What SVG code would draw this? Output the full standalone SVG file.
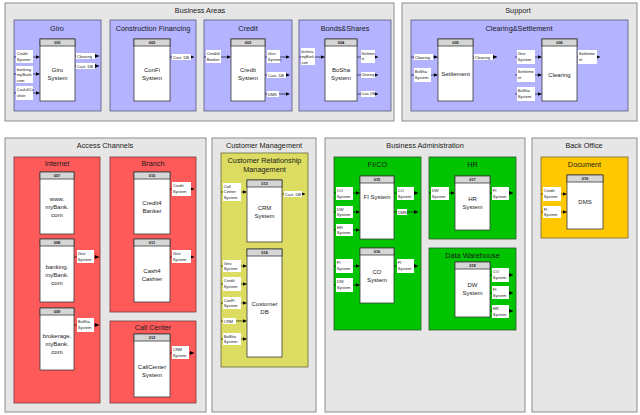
<svg xmlns="http://www.w3.org/2000/svg" width="640" height="415" viewBox="0 0 640 415">
<defs>
<marker id="ah" viewBox="0 0 6 6" refX="6" refY="3" markerWidth="4" markerHeight="4" markerUnits="userSpaceOnUse" orient="auto"><path d="M0,0 L6,3 L0,6 z" fill="#000"/></marker>
<style>
text{font-family:"Liberation Sans",Arial,sans-serif;fill:#1a1a1a}
.o{fill:#e6e6e6;stroke:#8c8c8c;stroke-width:1}
.b{fill:#b3b3ff;stroke:#5a5a7a;stroke-width:0.8}
.r{fill:#ff5a5a;stroke:#7a3a3a;stroke-width:0.8}
.y{fill:#dcdc62;stroke:#6a6a40;stroke-width:0.8}
.g{fill:#00c400;stroke:#2a5a2a;stroke-width:0.8}
.d{fill:#ffc800;stroke:#7a6a30;stroke-width:0.8}
.nb{fill:#fff;stroke:#3a3a3a;stroke-width:0.8}
.nh{fill:#d6d6d6;stroke:#3a3a3a;stroke-width:0.8}
.ot{font-size:7.3px;text-anchor:middle}
.ct{font-size:7.3px;text-anchor:middle}
.ni{font-size:4px;font-weight:bold;text-anchor:middle}
.nt{font-size:6px;text-anchor:middle}
.lb{fill:#fff}
.lt{font-size:4.1px}
.ls{font-size:3.4px}
.lm{font-size:3.5px}
.cn{stroke:#000;stroke-width:0.6;fill:none;marker-end:url(#ah)}
</style>
</defs>

<!-- Outer areas -->
<g id="area-business-areas"><rect class="o" x="5" y="3" width="389" height="118"/><text class="ot" x="200" y="12.5">Business Areas</text></g>
<g id="area-support"><rect class="o" x="402" y="3" width="235" height="118"/><text class="ot" x="518" y="12.5">Support</text></g>
<g id="area-access-channels"><rect class="o" x="5" y="138" width="201" height="274"/><text class="ot" x="105" y="147.5">Access Channels</text></g>
<g id="area-customer-management"><rect class="o" x="212" y="138" width="104" height="274"/><text class="ot" x="264" y="147.5">Customer Management</text></g>
<g id="area-business-administration"><rect class="o" x="325" y="138" width="200" height="274"/><text class="ot" x="425" y="147.5">Business Administration</text></g>
<g id="area-back-office"><rect class="o" x="532" y="138" width="105" height="274"/><text class="ot" x="584" y="147.5">Back Office</text></g>

<!-- Domains -->
<g id="dom-giro"><rect class="b" x="14" y="20" width="87" height="91"/><text class="ct" x="57" y="31">Giro</text></g>
<g id="dom-confi"><rect class="b" x="110" y="20" width="86" height="91"/><text class="ct" x="153" y="31">Construction Financing</text></g>
<g id="dom-credit"><rect class="b" x="204" y="20" width="88" height="91"/><text class="ct" x="248" y="31">Credit</text></g>
<g id="dom-bonds"><rect class="b" x="299" y="20" width="92" height="91"/><text class="ct" x="345" y="31">Bonds&amp;Shares</text></g>
<g id="dom-clearing-settlement"><rect class="b" x="411" y="20" width="217" height="91"/><text class="ct" x="519" y="31">Clearing&amp;Settlement</text></g>
<g id="dom-internet"><rect class="r" x="14" y="157" width="86" height="246"/><text class="ct" x="57" y="166">Internet</text></g>
<g id="dom-branch"><rect class="r" x="110" y="157" width="86" height="155"/><text class="ct" x="153" y="166">Branch</text></g>
<g id="dom-callcenter"><rect class="r" x="110" y="321" width="86" height="82"/><text class="ct" x="153" y="330">Call Center</text></g>
<g id="dom-crm"><rect class="y" x="221" y="153" width="87" height="214"/><text class="ct" x="264.5" y="162.5">Customer Relationship</text><text class="ct" x="264.5" y="171.5">Management</text></g>
<g id="dom-fico"><rect class="g" x="334" y="157" width="87" height="173"/><text class="ct" x="377.5" y="167">FI/CO</text></g>
<g id="dom-hr"><rect class="g" x="429" y="157" width="87" height="82"/><text class="ct" x="472.5" y="167">HR</text></g>
<g id="dom-dw"><rect class="g" x="429" y="248" width="87" height="82"/><text class="ct" x="472.5" y="257.5">Data Warehouse</text></g>
<g id="dom-document"><rect class="d" x="541" y="157" width="87" height="81"/><text class="ct" x="584.5" y="167">Document</text></g>

<!-- Nodes -->
<g id="n001"><rect class="nb" x="40" y="39" width="35" height="62"/><rect class="nh" x="40" y="39" width="35" height="7"/><text class="ni" x="57.5" y="44">001</text><text class="nt" x="57.5" y="72">Giro</text><text class="nt" x="57.5" y="80">System</text></g>
<g id="n002"><rect class="nb" x="134" y="39" width="36" height="62"/><rect class="nh" x="134" y="39" width="36" height="7"/><text class="ni" x="152" y="44">002</text><text class="nt" x="152" y="72">ConFi</text><text class="nt" x="152" y="80">System</text></g>
<g id="n003"><rect class="nb" x="231" y="39" width="34" height="62"/><rect class="nh" x="231" y="39" width="34" height="7"/><text class="ni" x="248" y="44">003</text><text class="nt" x="248" y="72">Credit</text><text class="nt" x="248" y="80">System</text></g>
<g id="n004"><rect class="nb" x="325" y="39" width="32" height="62"/><rect class="nh" x="325" y="39" width="32" height="7"/><text class="ni" x="341" y="44">004</text><text class="nt" x="341" y="72">BoSha</text><text class="nt" x="341" y="80">System</text></g>
<g id="n005"><rect class="nb" x="438" y="39" width="35" height="62"/><rect class="nh" x="438" y="39" width="35" height="7"/><text class="ni" x="455.5" y="44">005</text><text class="nt" x="455.5" y="75.5">Settlement</text></g>
<g id="n006"><rect class="nb" x="542" y="39" width="35" height="62"/><rect class="nh" x="542" y="39" width="35" height="7"/><text class="ni" x="559.5" y="44">006</text><text class="nt" x="559.5" y="76.5">Clearing</text></g>
<g id="n007"><rect class="nb" x="40" y="172" width="34" height="62"/><rect class="nh" x="40" y="172" width="34" height="7"/><text class="ni" x="57" y="177">007</text><text class="nt" x="57" y="201">www.</text><text class="nt" x="57" y="209">myBank.</text><text class="nt" x="57" y="217">com</text></g>
<g id="n008"><rect class="nb" x="40" y="239" width="34" height="63"/><rect class="nh" x="40" y="239" width="34" height="7"/><text class="ni" x="57" y="244">008</text><text class="nt" x="57" y="268.5">banking.</text><text class="nt" x="57" y="276.5">myBank.</text><text class="nt" x="57" y="284.5">com</text></g>
<g id="n009"><rect class="nb" x="40" y="308" width="34" height="62"/><rect class="nh" x="40" y="308" width="34" height="7"/><text class="ni" x="57" y="313">009</text><text class="nt" x="57" y="337.5">brokerage.</text><text class="nt" x="57" y="345.5">myBank.</text><text class="nt" x="57" y="353.5">com</text></g>
<g id="n010"><rect class="nb" x="134" y="172" width="36" height="62"/><rect class="nh" x="134" y="172" width="36" height="7"/><text class="ni" x="152" y="177">010</text><text class="nt" x="152" y="204.5">Credit4</text><text class="nt" x="152" y="212.5">Banker</text></g>
<g id="n011"><rect class="nb" x="134" y="239" width="36" height="63"/><rect class="nh" x="134" y="239" width="36" height="7"/><text class="ni" x="152" y="244">011</text><text class="nt" x="152" y="272.5">Cash4</text><text class="nt" x="152" y="280.5">Cashier</text></g>
<g id="n012"><rect class="nb" x="134" y="334" width="36" height="63"/><rect class="nh" x="134" y="334" width="36" height="7"/><text class="ni" x="152" y="339">012</text><text class="nt" x="152" y="368.5">CallCenter</text><text class="nt" x="152" y="376.5">System</text></g>
<g id="n013"><rect class="nb" x="247" y="180" width="35" height="62"/><rect class="nh" x="247" y="180" width="35" height="7"/><text class="ni" x="264.5" y="185">013</text><text class="nt" x="264.5" y="210">CRM</text><text class="nt" x="264.5" y="218">System</text></g>
<g id="n014"><rect class="nb" x="247" y="249" width="35" height="108"/><rect class="nh" x="247" y="249" width="35" height="7"/><text class="ni" x="264.5" y="254">014</text><text class="nt" x="264.5" y="306">Customer</text><text class="nt" x="264.5" y="314">DB</text></g>
<g id="n015"><rect class="nb" x="360" y="176" width="34" height="63"/><rect class="nh" x="360" y="176" width="34" height="7"/><text class="ni" x="377" y="181">015</text><text class="nt" x="377" y="198.5">FI System</text></g>
<g id="n016"><rect class="nb" x="360" y="248" width="34" height="55"/><rect class="nh" x="360" y="248" width="34" height="7"/><text class="ni" x="377" y="253">016</text><text class="nt" x="377" y="273.5">CO</text><text class="nt" x="377" y="281.5">System</text></g>
<g id="n017"><rect class="nb" x="455" y="176" width="35" height="54"/><rect class="nh" x="455" y="176" width="35" height="7"/><text class="ni" x="472.5" y="181">017</text><text class="nt" x="472.5" y="200.5">HR</text><text class="nt" x="472.5" y="208.5">System</text></g>
<g id="n018"><rect class="nb" x="455" y="262" width="35" height="55"/><rect class="nh" x="455" y="262" width="35" height="7"/><text class="ni" x="472.5" y="267">018</text><text class="nt" x="472.5" y="287">DW</text><text class="nt" x="472.5" y="295">System</text></g>
<g id="n019"><rect class="nb" x="567" y="175" width="36" height="54"/><rect class="nh" x="567" y="175" width="36" height="7"/><text class="ni" x="585" y="180">019</text><text class="nt" x="585" y="203.5">DMS</text></g>

<!-- Connectors -->
<g id="connectors">
<!-- 001 -->
<line class="cn" x1="14" y1="57" x2="39.6" y2="57"/><rect class="lb" x="16" y="50" width="17" height="13"/><text class="lt" x="16.7" y="55">Credit</text><text class="lt" x="16.7" y="60.5">System</text>
<line class="cn" x1="14" y1="74" x2="39.6" y2="74"/><rect class="lb" x="16" y="66" width="17" height="17"/><text class="lt" x="16.7" y="70.5">banking.</text><text class="lt" x="16.7" y="76">myBank.</text><text class="lt" x="16.7" y="81.5">com</text>
<line class="cn" x1="14" y1="93" x2="39.6" y2="93"/><rect class="lb" x="16" y="86" width="17" height="14"/><text class="lt" x="16.7" y="91">Cash4Ca</text><text class="lt" x="16.7" y="96.5">shier</text>
<line class="cn" x1="75" y1="56" x2="99" y2="56"/><rect class="lb" x="76" y="53" width="19" height="6"/><text class="lt" x="76.7" y="57.5">Clearing</text>
<line class="cn" x1="75" y1="66" x2="99" y2="66"/><rect class="lb" x="76" y="63" width="19" height="6"/><text class="lt" x="76.7" y="67.5">Cust. DB</text>
<!-- 002 -->
<line class="cn" x1="170" y1="57" x2="194" y2="57"/><rect class="lb" x="172" y="54" width="19" height="6"/><text class="lt" x="172.7" y="58.5">Cust. DB</text>
<!-- 003 -->
<line class="cn" x1="204" y1="57" x2="230.6" y2="57"/><rect class="lb" x="206" y="50" width="15" height="13"/><text class="lt" x="206.7" y="55">Credit4</text><text class="lt" x="206.7" y="60.5">Banker</text>
<line class="cn" x1="265" y1="57" x2="289.5" y2="57"/><rect class="lb" x="267" y="50" width="13" height="13"/><text class="lt" x="267.7" y="55">Giro</text><text class="lt" x="267.7" y="60.5">System</text>
<line class="cn" x1="265" y1="75" x2="289.5" y2="75"/><rect class="lb" x="267" y="72" width="19" height="6"/><text class="lt" x="267.7" y="76.5">Cust. DB</text>
<line class="cn" x1="265" y1="94" x2="289.5" y2="94"/><rect class="lb" x="267" y="91" width="12" height="6"/><text class="lt" x="267.7" y="95.5">DMS</text>
<!-- 004 -->
<line class="cn" x1="299" y1="57" x2="324.6" y2="57"/><rect class="lb" x="301" y="48" width="14" height="17"/><text class="lm" x="301.4" y="52.5">brokera.</text><text class="lm" x="301.4" y="58">myBank.</text><text class="lm" x="301.4" y="63.5">com</text>
<line class="cn" x1="357" y1="57" x2="378" y2="57"/><rect class="lb" x="361" y="50" width="14" height="13"/><text class="ls" x="361.4" y="55">Settleme</text><text class="ls" x="361.4" y="60">nt</text>
<line class="cn" x1="357" y1="75" x2="378" y2="75"/><rect class="lb" x="361" y="72" width="14" height="6"/><text class="ls" x="361.4" y="76.2">Clearing</text>
<line class="cn" x1="357" y1="94" x2="378" y2="94"/><rect class="lb" x="361" y="91" width="14" height="6"/><text class="ls" x="361.4" y="95.2">Cust. DB</text>
<!-- 005 -->
<line class="cn" x1="411" y1="57" x2="437.6" y2="57"/><rect class="lb" x="414" y="54" width="19" height="6"/><text class="lt" x="414.7" y="58.5">Clearing</text>
<line class="cn" x1="411" y1="75" x2="437.6" y2="75"/><rect class="lb" x="414" y="68" width="17" height="14"/><text class="lt" x="414.7" y="73">BoSha</text><text class="lt" x="414.7" y="78.5">System</text>
<line class="cn" x1="473" y1="57" x2="497" y2="57"/><rect class="lb" x="474" y="54" width="19" height="6"/><text class="lt" x="474.7" y="58.5">Clearing</text>
<!-- 006 -->
<line class="cn" x1="515" y1="57" x2="541.6" y2="57"/><rect class="lb" x="517" y="50" width="18" height="14"/><text class="lt" x="517.7" y="55">Giro</text><text class="lt" x="517.7" y="60.5">System</text>
<line class="cn" x1="515" y1="75" x2="541.6" y2="75"/><rect class="lb" x="517" y="68" width="18" height="14"/><text class="lt" x="517.7" y="73">Settleme</text><text class="lt" x="517.7" y="78.5">nt</text>
<line class="cn" x1="515" y1="94" x2="541.6" y2="94"/><rect class="lb" x="517" y="87" width="18" height="14"/><text class="lt" x="517.7" y="92">BoSha</text><text class="lt" x="517.7" y="97.5">System</text>
<line class="cn" x1="577" y1="57" x2="600" y2="57"/><rect class="lb" x="578" y="50" width="19" height="14"/><text class="lt" x="578.7" y="55">Settleme</text><text class="lt" x="578.7" y="60.5">nt</text>
<!-- access channels -->
<line class="cn" x1="74" y1="257" x2="99" y2="257"/><rect class="lb" x="77" y="250" width="17" height="13"/><text class="lt" x="77.7" y="255">Giro</text><text class="lt" x="77.7" y="260.5">System</text>
<line class="cn" x1="74" y1="325" x2="99" y2="325"/><rect class="lb" x="77" y="318" width="17" height="14"/><text class="lt" x="77.7" y="323">BoSha</text><text class="lt" x="77.7" y="328.5">System</text>
<line class="cn" x1="170" y1="189" x2="194" y2="189"/><rect class="lb" x="172" y="182" width="19" height="14"/><text class="lt" x="172.7" y="187">Credit</text><text class="lt" x="172.7" y="192.5">System</text>
<line class="cn" x1="170" y1="257" x2="194" y2="257"/><rect class="lb" x="172" y="250" width="19" height="13"/><text class="lt" x="172.7" y="255">Giro</text><text class="lt" x="172.7" y="260.5">System</text>
<line class="cn" x1="170" y1="353" x2="194" y2="353"/><rect class="lb" x="172" y="346" width="17" height="13"/><text class="lt" x="172.7" y="351">CRM</text><text class="lt" x="172.7" y="356.5">System</text>
<!-- crm -->
<line class="cn" x1="221" y1="192" x2="246.6" y2="192"/><rect class="lb" x="223" y="183" width="18" height="18"/><text class="lt" x="223.7" y="187.5">Call</text><text class="lt" x="223.7" y="193">Center</text><text class="lt" x="223.7" y="198.5">System</text>
<line class="cn" x1="282" y1="194" x2="305" y2="194"/><rect class="lb" x="284" y="191" width="18" height="6"/><text class="lt" x="284.7" y="195.5">Cust. DB</text>
<line class="cn" x1="221" y1="266" x2="246.6" y2="266"/><rect class="lb" x="223" y="260" width="18" height="12"/><text class="lt" x="223.7" y="264.7">Giro</text><text class="lt" x="223.7" y="270">System</text>
<line class="cn" x1="221" y1="284" x2="246.6" y2="284"/><rect class="lb" x="223" y="277" width="18" height="14"/><text class="lt" x="223.7" y="282">Credit</text><text class="lt" x="223.7" y="287.5">System</text>
<line class="cn" x1="221" y1="303" x2="246.6" y2="303"/><rect class="lb" x="223" y="297" width="18" height="12"/><text class="lt" x="223.7" y="301.7">ConFi</text><text class="lt" x="223.7" y="307">System</text>
<line class="cn" x1="221" y1="321" x2="246.6" y2="321"/><rect class="lb" x="223" y="318" width="13" height="6"/><text class="lt" x="223.7" y="322.5">CRM</text>
<line class="cn" x1="221" y1="339" x2="246.6" y2="339"/><rect class="lb" x="223" y="333" width="18" height="12"/><text class="lt" x="223.7" y="337.7">BoSha</text><text class="lt" x="223.7" y="343">System</text>
<!-- fico -->
<line class="cn" x1="334" y1="193" x2="359.6" y2="193"/><rect class="lb" x="336" y="187" width="17" height="13"/><text class="lt" x="336.7" y="192">CO</text><text class="lt" x="336.7" y="197.5">System</text>
<line class="cn" x1="334" y1="212" x2="359.6" y2="212"/><rect class="lb" x="336" y="206" width="17" height="12"/><text class="lt" x="336.7" y="210.7">DW</text><text class="lt" x="336.7" y="216">System</text>
<line class="cn" x1="334" y1="230" x2="359.6" y2="230"/><rect class="lb" x="336" y="224" width="17" height="12"/><text class="lt" x="336.7" y="228.7">HR</text><text class="lt" x="336.7" y="234">System</text>
<line class="cn" x1="394" y1="193" x2="418" y2="193"/><rect class="lb" x="397" y="187" width="17" height="13"/><text class="lt" x="397.7" y="192">CO</text><text class="lt" x="397.7" y="197.5">System</text>
<line class="cn" x1="394" y1="212" x2="418" y2="212"/><rect class="lb" x="397" y="209" width="10" height="6"/><text class="lt" x="397.7" y="213.5">DMS</text>
<line class="cn" x1="334" y1="266" x2="359.6" y2="266"/><rect class="lb" x="336" y="259" width="17" height="14"/><text class="lt" x="336.7" y="264">FI</text><text class="lt" x="336.7" y="269.5">System</text>
<line class="cn" x1="334" y1="285" x2="359.6" y2="285"/><rect class="lb" x="336" y="278" width="17" height="14"/><text class="lt" x="336.7" y="283">DW</text><text class="lt" x="336.7" y="288.5">System</text>
<line class="cn" x1="394" y1="266" x2="418" y2="266"/><rect class="lb" x="397" y="259" width="17" height="14"/><text class="lt" x="397.7" y="264">FI</text><text class="lt" x="397.7" y="269.5">System</text>
<!-- hr -->
<line class="cn" x1="429" y1="193" x2="454.6" y2="193"/><rect class="lb" x="431" y="187" width="18" height="13"/><text class="lt" x="431.7" y="192">DW</text><text class="lt" x="431.7" y="197.5">System</text>
<line class="cn" x1="490" y1="193" x2="513" y2="193"/><rect class="lb" x="492" y="187" width="17" height="13"/><text class="lt" x="492.7" y="192">FI</text><text class="lt" x="492.7" y="197.5">System</text>
<!-- dw -->
<line class="cn" x1="490" y1="275" x2="513" y2="275"/><rect class="lb" x="492" y="268" width="17" height="14"/><text class="lt" x="492.7" y="273">CO</text><text class="lt" x="492.7" y="278.5">System</text>
<line class="cn" x1="490" y1="293" x2="513" y2="293"/><rect class="lb" x="492" y="286" width="17" height="13"/><text class="lt" x="492.7" y="291">FI</text><text class="lt" x="492.7" y="296.5">System</text>
<line class="cn" x1="490" y1="311" x2="513" y2="311"/><rect class="lb" x="492" y="305" width="17" height="13"/><text class="lt" x="492.7" y="310">HR</text><text class="lt" x="492.7" y="315.5">System</text>
<!-- document -->
<line class="cn" x1="541" y1="194" x2="566.6" y2="194"/><rect class="lb" x="543" y="187" width="18" height="14"/><text class="lt" x="543.7" y="192">Credit</text><text class="lt" x="543.7" y="197.5">System</text>
<line class="cn" x1="541" y1="212" x2="566.6" y2="212"/><rect class="lb" x="543" y="206" width="18" height="12"/><text class="lt" x="543.7" y="210.7">FI</text><text class="lt" x="543.7" y="216">System</text>
</g>
</svg>
